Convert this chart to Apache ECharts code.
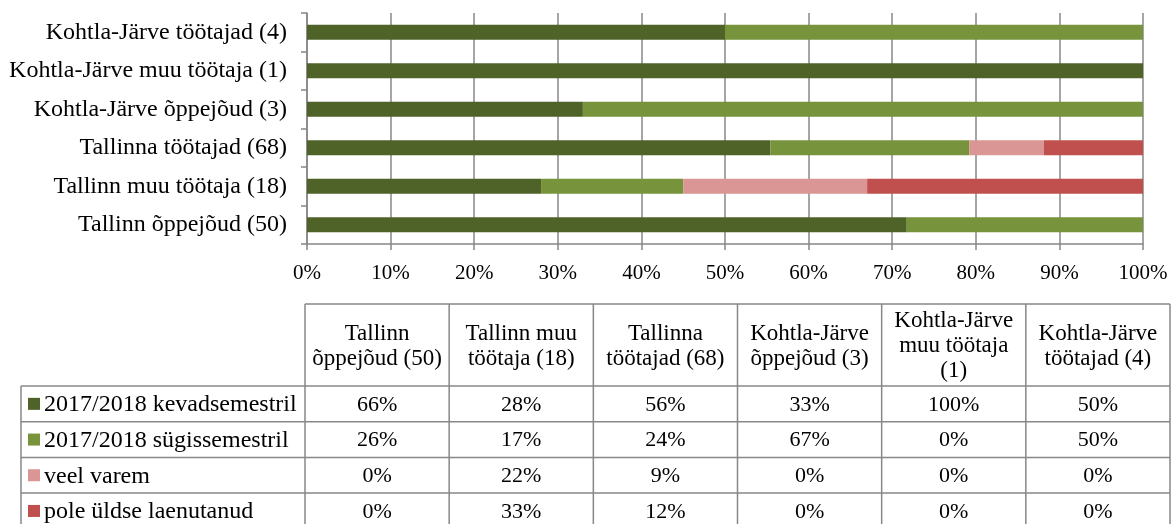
<!DOCTYPE html>
<html>
<head>
<meta charset="utf-8">
<script src="https://cdn.jsdelivr.net/npm/echarts@6/dist/echarts.min.js"></script>
<style>
  html, body { margin: 0; padding: 0; background: #fff; }
  #chart { width: 1171px; height: 524px; }
</style>
</head>
<body>
<div id="chart"></div>
<script>
// Groups, bottom to top on the bar chart and left to right in the table
const categories = [
  'Tallinn õppejõud (50)',
  'Tallinn muu töötaja (18)',
  'Tallinna töötajad (68)',
  'Kohtla-Järve õppejõud (3)',
  'Kohtla-Järve muu töötaja (1)',
  'Kohtla-Järve töötajad (4)'
];
const tableHeaders = [
  'Tallinn\nõppejõud (50)',
  'Tallinn muu\ntöötaja (18)',
  'Tallinna\ntöötajad (68)',
  'Kohtla-Järve\nõppejõud (3)',
  'Kohtla-Järve\nmuu töötaja\n(1)',
  'Kohtla-Järve\ntöötajad (4)'
];
const seriesNames = [
  '2017/2018 kevadsemestril',
  '2017/2018 sügissemestril',
  'veel varem',
  'pole üldse laenutanud'
];
// Shares (%) per group
const kevad  = [66, 28, 56, 33, 100, 50];
const sugis  = [26, 17, 24, 67, 0, 50];
const varem  = [0, 22, 9, 0, 0, 0];
const pole   = [0, 33, 12, 0, 0, 0];
const xTicks = [0, 10, 20, 30, 40, 50, 60, 70, 80, 90, 100];

const colors = ['#4F6228', '#77933C', '#D99694', '#C0504D'];
const values = [kevad, sugis, varem, pole];
const FONT = '"Liberation Serif", "Times New Roman", serif';
const GRID_COLOR = '#878787';

// Bars are normalised to 100 % per group
const totals = categories.map((_, i) => values.reduce((s, arr) => s + arr[i], 0));
const normalised = values.map(arr => arr.map((v, i) => totals[i] ? v / totals[i] * 100 : 0));

// Table layout
const T = {
  left: 21, colStart: 305, right: 1170,
  headTop: 304, headBottom: 386, rowH: 35.7
};
const colW = (T.right - T.colStart) / categories.length;

function buildTable() {
  const els = [];
  const line = (x1, y1, x2, y2) => els.push({
    type: 'line', silent: true,
    shape: { x1, y1, x2, y2 },
    style: { stroke: GRID_COLOR, lineWidth: 1.5 }
  });
  const bottom = T.headBottom + T.rowH * seriesNames.length;
  // header frame
  line(T.colStart, T.headTop, T.right, T.headTop);
  // horizontal row lines
  for (let r = 0; r <= seriesNames.length; r++) {
    const y = T.headBottom + r * T.rowH;
    line(T.left, y, T.right, y);
  }
  // vertical lines
  line(T.left, T.headBottom, T.left, bottom);
  for (let c = 0; c <= categories.length; c++) {
    const x = T.colStart + c * colW;
    line(x, T.headTop, x, bottom);
  }
  // header texts
  tableHeaders.forEach((h, c) => {
    els.push({
      type: 'text', silent: true,
      x: T.colStart + (c + 0.5) * colW,
      y: (T.headTop + T.headBottom) / 2 + 1,
      style: {
        text: h, fill: '#000', font: '23px ' + FONT,
        align: 'center', verticalAlign: 'middle', lineHeight: 25
      }
    });
  });
  // legend keys and values
  seriesNames.forEach((name, r) => {
    const cy = T.headBottom + (r + 0.5) * T.rowH;
    els.push({
      type: 'rect', silent: true,
      shape: { x: 28, y: cy - 6, width: 12, height: 12 },
      style: { fill: colors[r] }
    });
    els.push({
      type: 'text', silent: true, x: 44, y: cy + 1,
      style: {
        text: name, fill: '#000', font: '24px ' + FONT,
        align: 'left', verticalAlign: 'middle'
      }
    });
    values[r].forEach((v, c) => {
      els.push({
        type: 'text', silent: true,
        x: T.colStart + (c + 0.5) * colW, y: cy + 1,
        style: {
          text: v + '%', fill: '#000', font: '22px ' + FONT,
          align: 'center', verticalAlign: 'middle'
        }
      });
    });
  });
  return els;
}

const chart = echarts.init(document.getElementById('chart'), null, { renderer: 'canvas' });
chart.setOption({
  animation: false,
  backgroundColor: '#fff',
  grid: { left: 307, top: 13, width: 836, height: 231, containLabel: false },
  xAxis: {
    type: 'value', min: xTicks[0], max: xTicks[xTicks.length - 1],
    interval: xTicks[1] - xTicks[0],
    axisLine: { show: true, lineStyle: { color: GRID_COLOR, width: 1.5 } },
    axisTick: { show: true, length: 6, lineStyle: { color: GRID_COLOR, width: 1.5 } },
    splitLine: { show: true, lineStyle: { color: GRID_COLOR, width: 1.5 } },
    axisLabel: {
      formatter: '{value}%', color: '#000', fontFamily: FONT, fontSize: 21, margin: 19
    }
  },
  yAxis: {
    type: 'category', data: categories,
    axisLine: { show: true, lineStyle: { color: GRID_COLOR, width: 1.5 } },
    axisTick: { show: true, length: 6, lineStyle: { color: GRID_COLOR, width: 1.5 } },
    axisLabel: { color: '#000', fontFamily: FONT, fontSize: 24, margin: 20 }
  },
  series: seriesNames.map((name, k) => ({
    name, type: 'bar', stack: 'total', barWidth: 15,
    itemStyle: { color: colors[k] },
    data: normalised[k]
  })),
  graphic: buildTable()
});
</script>
</body>
</html>
